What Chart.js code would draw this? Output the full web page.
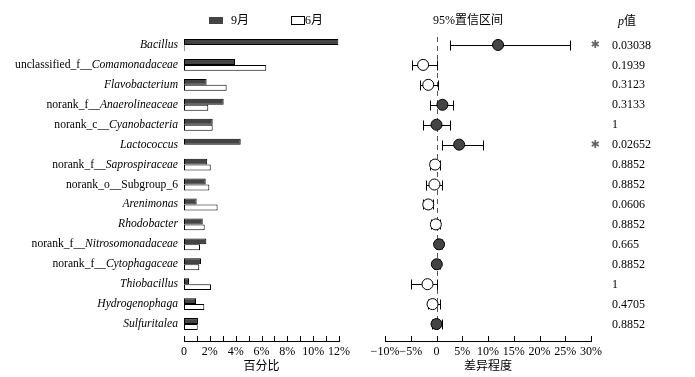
<!DOCTYPE html>
<html>
<head>
<meta charset="utf-8">
<script src="https://cdn.jsdelivr.net/npm/chart.js@4.4.1/dist/chart.umd.min.js"></script>
<style>
    html, body { margin: 0; padding: 0; background: #fff; }
    #wrap { position: relative; width: 695px; height: 377px; overflow: hidden; }
    #barCanvas { position: absolute; left: 0; top: 0; }
    #ciCanvas { position: absolute; left: 355px; top: 0; }
</style>
</head>
<body>
<div id="wrap">
    <canvas id="barCanvas" width="355" height="377"></canvas>
    <canvas id="ciCanvas" width="340" height="377"></canvas>
</div>
<script>
// taxon names: upright prefix + italic part
const taxaPlain = ['', 'unclassified_f__', '', 'norank_f__', 'norank_c__', '', 'norank_f__', 'norank_o__Subgroup_6',
    '', '', 'norank_f__', 'norank_f__', '', '', ''];
const taxaItalic = ['Bacillus', 'Comamonadaceae', 'Flavobacterium', 'Anaerolineaceae', 'Cyanobacteria', 'Lactococcus',
    'Saprospiraceae', '', 'Arenimonas', 'Rhodobacter', 'Nitrosomonadaceae', 'Cytophagaceae', 'Thiobacillus',
    'Hydrogenophaga', 'Sulfuritalea'];

// relative abundance (%)
const pctSep = [11.95, 3.95, 1.75, 3.07, 2.22, 4.39, 1.80, 1.68, 0.98, 1.45, 1.73, 1.32, 0.39, 0.93, 1.08];
const pctJun = [0.05, 6.37, 3.30, 1.88, 2.22, 0, 2.07, 1.96, 2.60, 1.60, 1.24, 1.18, 2.09, 1.57, 1.06];

// difference and 95% CI (%)
const diffMean = [11.95, -2.6, -1.6, 1.15, 0, 4.4, -0.27, -0.4, -1.6, -0.13, 0.5, 0.06, -1.75, -0.77, 0.0];
const ciLow = [2.58, -4.7, -3.2, -1.3, -2.7, 1.15, -1.2, -2.1, -2.6, -1.0, -0.13, -0.5, -5.0, -1.6, -0.8];
const ciHigh = [25.9, 0.06, 0.3, 3.2, 2.7, 9.0, 0.7, 1.15, -0.7, 0.77, 1.15, 0.6, 0.1, 0.6, 1.0];

const pValues = ['0.03038', '0.1939', '0.3123', '0.3133', '1', '0.02652', '0.8852', '0.8852', '0.0606', '0.8852',
    '0.665', '0.8852', '1', '0.4705', '0.8852'];

const seriesNames = ['9月', '6月'];

const SERIF = "'Liberation Serif', 'Noto Sans CJK SC', serif";
const CJK = "'Noto Sans CJK SC', sans-serif";
const DARK = '#444444';

Chart.defaults.font.family = SERIF;
Chart.defaults.font.size = 12;
Chart.defaults.color = '#000';

function rowScale() {
    return {
        type: 'linear',
        display: false,
        reverse: true,
        offset: false,
        grid: { offset: false },
        min: -0.5,
        max: 14.85
    };
}

function drawInwardTicks(chart) {
    const ctx = chart.ctx;
    const xs = chart.scales.x;
    ctx.save();
    ctx.strokeStyle = '#000';
    ctx.lineWidth = 1;
    xs.ticks.forEach(t => {
        const px = Math.round(xs.getPixelForValue(t.value)) + 0.5;
        ctx.beginPath();
        ctx.moveTo(px, xs.top);
        ctx.lineTo(px, xs.top - 5);
        ctx.stroke();
    });
    ctx.restore();
}

const barDecor = {
    id: 'barDecor',
    afterDraw(chart) {
        const ctx = chart.ctx;
        const ys = chart.scales.y;
        drawInwardTicks(chart);

        // category labels, italic part at the end
        ctx.save();
        ctx.textBaseline = 'middle';
        ctx.textAlign = 'right';
        ctx.fillStyle = '#000';
        const right = 178;
        taxaItalic.forEach((name, i) => {
            const y = ys.getPixelForValue(i);
            ctx.font = `italic 11.6px ${SERIF}`;
            const w = name ? ctx.measureText(name).width : 0;
            if (name) ctx.fillText(name, right, y);
            ctx.font = `11.6px ${SERIF}`;
            if (taxaPlain[i]) ctx.fillText(taxaPlain[i], right - w, y);
        });

        // legend
        ctx.textAlign = 'left';
        ctx.font = `12px ${SERIF}`;
        ctx.fillStyle = DARK;
        ctx.fillRect(209, 17, 14, 7);
        ctx.fillStyle = '#000';
        ctx.fillText(seriesNames[0], 231, 20.5);
        ctx.fillStyle = '#fff';
        ctx.strokeStyle = '#000';
        ctx.fillRect(291, 16, 13, 8);
        ctx.strokeRect(291.5, 16.5, 13, 8);
        ctx.fillStyle = '#000';
        ctx.fillText(seriesNames[1], 305, 20.5);
        ctx.restore();
    }
};

const ciDecor = {
    id: 'ciDecor',
    beforeDatasetsDraw(chart) {
        const ctx = chart.ctx;
        const xs = chart.scales.x;
        const ys = chart.scales.y;
        ctx.save();
        // zero line
        const x0 = Math.round(xs.getPixelForValue(0)) + 0.5;
        ctx.strokeStyle = '#555';
        ctx.setLineDash([5, 4]);
        ctx.beginPath();
        ctx.moveTo(x0, ys.getPixelForValue(-0.4));
        ctx.lineTo(x0, ys.getPixelForValue(14.4));
        ctx.stroke();
        ctx.setLineDash([]);

        // error bars
        ctx.strokeStyle = '#000';
        ctx.lineWidth = 1;
        diffMean.forEach((d, i) => {
            const y = Math.round(ys.getPixelForValue(i)) + 0.5;
            const xl = Math.round(xs.getPixelForValue(ciLow[i])) + 0.5;
            const xh = Math.round(xs.getPixelForValue(ciHigh[i])) + 0.5;
            ctx.beginPath();
            ctx.moveTo(xl, y);
            ctx.lineTo(xh, y);
            ctx.moveTo(xl, y - 5);
            ctx.lineTo(xl, y + 5);
            ctx.moveTo(xh, y - 5);
            ctx.lineTo(xh, y + 5);
            ctx.stroke();
        });
        ctx.restore();
    },
    afterDraw(chart) {
        const ctx = chart.ctx;
        const ys = chart.scales.y;
        drawInwardTicks(chart);
        ctx.save();
        ctx.fillStyle = '#000';
        ctx.textBaseline = 'middle';
        ctx.textAlign = 'center';
        ctx.font = `12px ${SERIF}`;
        ctx.fillText('95%置信区间', 113, 21);

        ctx.textAlign = 'left';
        ctx.font = `italic 12px ${SERIF}`;
        ctx.fillText('p', 263, 22);
        const pw = ctx.measureText('p').width;
        ctx.font = `12px ${SERIF}`;
        ctx.fillText('值', 263 + pw, 22);

        pValues.forEach((p, i) => {
            const y = ys.getPixelForValue(i);
            ctx.fillStyle = '#000';
            ctx.font = `12px ${SERIF}`;
            ctx.textAlign = 'left';
            ctx.fillText(p, 257, y + 0.5);
            if (parseFloat(p) < 0.05) {
                ctx.fillStyle = '#666';
                ctx.font = "11px 'DejaVu Sans'";
                ctx.textAlign = 'center';
                ctx.fillText('✱', 240, y + 0.5);
            }
        });
        ctx.restore();
    }
};

function xAxisBase(min, max, step, fmt, title) {
    return {
        type: 'linear',
        min: min,
        max: max,
        grid: { display: false, drawTicks: false },
        border: { display: true, color: '#000', width: 1 },
        ticks: { stepSize: step, autoSkip: false, maxRotation: 0, padding: 4, color: '#000', callback: fmt },
        title: { display: true, text: title, color: '#000', font: { family: CJK, size: 12 }, padding: { top: 2, bottom: 4 } },
        afterFit(scale) { scale.height = 36; }
    };
}

new Chart(document.getElementById('barCanvas'), {
    type: 'bar',
    data: {
        datasets: [
            {
                label: seriesNames[0],
                data: pctSep.map((v, i) => ({ x: v, y: i })),
                backgroundColor: DARK,
                borderColor: '#000',
                borderWidth: 1,
                borderSkipped: false,
                categoryPercentage: 0.7,
                barPercentage: 1.0
            },
            {
                label: seriesNames[1],
                data: pctJun.map((v, i) => ({ x: v, y: i })),
                backgroundColor: '#fff',
                borderColor: '#000',
                borderWidth: 1,
                borderSkipped: false,
                categoryPercentage: 0.7,
                barPercentage: 1.0
            }
        ]
    },
    options: {
        indexAxis: 'y',
        responsive: false,
        animation: false,
        layout: { padding: { left: 184, right: 16, top: 35, bottom: 0 } },
        plugins: { legend: { display: false }, tooltip: { enabled: false } },
        scales: {
            x: xAxisBase(0, 12, 1, v => (v % 2 !== 0 ? '' : (v === 0 ? '0' : v + '%')), '百分比'),
            y: rowScale()
        }
    },
    plugins: [barDecor]
});

new Chart(document.getElementById('ciCanvas'), {
    type: 'scatter',
    data: {
        datasets: [{
            label: '差异',
            data: diffMean.map((v, i) => ({ x: v, y: i })),
            pointRadius: 5.5,
            pointBorderWidth: 1,
            pointBorderColor: '#000',
            pointBackgroundColor: pctSep.map((v, i) => (v >= pctJun[i] ? DARK : '#fff'))
        }]
    },
    options: {
        responsive: false,
        animation: false,
        layout: { padding: { left: 30, right: 104, top: 35, bottom: 0 } },
        plugins: { legend: { display: false }, tooltip: { enabled: false } },
        scales: {
            x: xAxisBase(-10, 30, 5, v => (v < 0 ? '\u2212' + Math.abs(v) + '%' : (v === 0 ? '0' : v + '%')), '差异程度'),
            y: rowScale()
        }
    },
    plugins: [ciDecor]
});
</script>
</body>
</html>
